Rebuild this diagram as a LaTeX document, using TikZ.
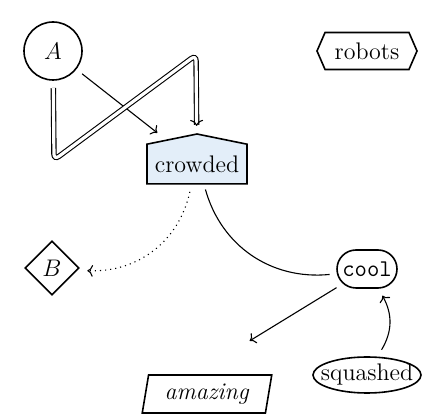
\documentclass[tikz,border=0pt]{standalone}
\usetikzlibrary{shapes.geometric,shapes.symbols,shapes.misc,arrows.meta}
\definecolor{crowdfill}{RGB}{227,238,249}
\begin{document}
\begin{tikzpicture}[x=0.5pt,y=-0.5pt,
  base/.style={draw,thick,outer sep=4pt,inner sep=2pt,font=\fontsize{12}{14}\selectfont},
  conn/.style={->,line width=0.55pt}]
\useasboundingbox (0,0) rectangle (443,415);
\node[base,circle,minimum size=29pt] (A) at (53,51) {$A$};
\node[base,signal,signal to=east and west,signal pointer angle=133,minimum width=50pt,minimum height=18.5pt] (robots) at (367,51) {robots};
\node[base,signal,signal to=north,signal pointer angle=157,minimum width=50pt,minimum height=24.5pt,fill=crowdfill] (crowded) at (197,164) {crowded};
\node[base,diamond,aspect=1,minimum width=30pt,minimum height=30pt,inner sep=0pt] (B) at (52,268) {$B$};
\node[base,rounded rectangle,minimum width=34pt,minimum height=19pt] (cool) at (367,269) {\texttt{cool}};
\node[base,trapezium,trapezium left angle=80,trapezium right angle=100,trapezium stretches=true,minimum width=65pt,minimum height=19pt] (amazing) at (207,394) {\textit{amazing}};
\node[base,ellipse,minimum width=54pt,minimum height=18pt,inner sep=0pt] (squashed) at (367,375) {\makebox[30pt][c]{squashed}};
\coordinate (c1) at (54,160);
\coordinate (c2) at (196,55);
\draw[conn] (A) -- (crowded);
\draw[line width=0.55pt,double,double distance=1.6pt,rounded corners=3pt,-{To[length=3pt,width=6.5pt]}] (A) -- (c1) -- (c2) -- (crowded);
\draw[conn,dotted] (crowded) to[bend left=40] (B);
\draw[line width=0.55pt] (crowded) to[bend right=40] (cool);
\draw[conn,shorten >=25pt] (cool) -- (amazing.north);
\draw[conn] (squashed) to[bend right=30] (cool);
\end{tikzpicture}
\end{document}
